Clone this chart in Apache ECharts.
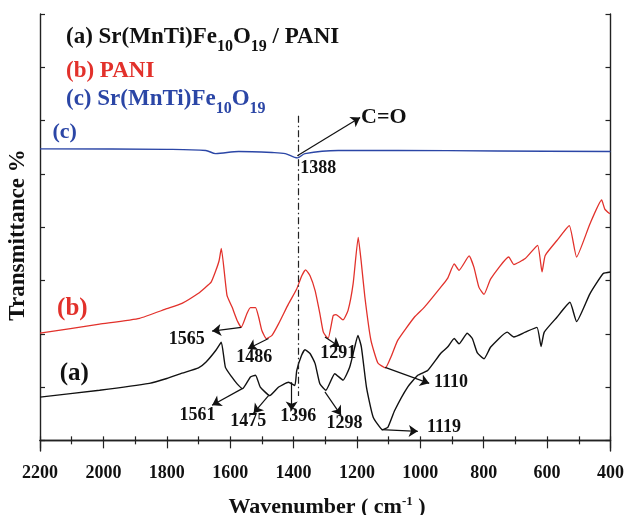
<!DOCTYPE html>
<html>
<head>
<meta charset="utf-8">
<script src="https://cdn.jsdelivr.net/npm/echarts@6/dist/echarts.min.js"></script>
<style>
  html, body { margin: 0; padding: 0; background: #fff; }
  #chart { width: 627px; height: 515px; }
</style>
</head>
<body>
<div id="chart"></div>
<script>
// FTIR spectra, offset vertically (arbitrary transmittance units)
const xTickValues = [2200, 2000, 1800, 1600, 1400, 1200, 1000, 800, 600, 400];
const yTickValues = [0, 1, 2, 3, 4, 5, 6, 7, 8];

// (a) Sr(MnTi)Fe10O19 / PANI composite
const wnComposite = [2200, 2012, 1855, 1800, 1752, 1700, 1676, 1645, 1628, 1615, 1595, 1578, 1561, 1536, 1520, 1505, 1475, 1447, 1416, 1396, 1390, 1375, 1364, 1348, 1332, 1317, 1298, 1270, 1244, 1223, 1207, 1197, 1186, 1170, 1149, 1119, 1102, 1081, 1040, 1008, 977, 936, 914, 893, 878, 852, 836, 820, 799, 778, 726, 705, 669, 632, 619, 609, 569, 528, 507, 465, 423, 400];
const tComposite = [0.81, 0.94, 1.07, 1.16, 1.26, 1.36, 1.47, 1.69, 1.84, 1.37, 1.19, 1.06, 0.97, 1.19, 1.22, 1.00, 0.84, 1.00, 1.09, 1.03, 1.31, 1.59, 1.70, 1.63, 1.44, 1.06, 0.94, 1.25, 1.13, 1.37, 1.75, 1.97, 1.75, 1.00, 0.44, 0.20, 0.25, 0.56, 1.00, 1.22, 1.31, 1.63, 1.75, 1.91, 1.81, 2.01, 1.91, 1.64, 1.53, 1.75, 2.03, 1.94, 2.03, 2.12, 1.76, 2.03, 2.31, 2.59, 2.23, 2.75, 3.13, 3.16];

// (b) PANI
const wnPani = [2200, 2012, 1886, 1800, 1752, 1700, 1680, 1660, 1645, 1635, 1628, 1610, 1594, 1578, 1565, 1547, 1536, 1520, 1510, 1500, 1486, 1468, 1447, 1416, 1390, 1374, 1362, 1348, 1332, 1317, 1306, 1291, 1275, 1266, 1244, 1228, 1212, 1196, 1187, 1175, 1156, 1134, 1110, 1093, 1071, 1019, 987, 936, 914, 893, 878, 846, 831, 815, 799, 778, 721, 705, 669, 630, 616, 606, 569, 530, 507, 465, 428, 418, 402];
const tPani = [2.01, 2.18, 2.29, 2.47, 2.57, 2.76, 2.86, 2.97, 3.19, 3.37, 3.60, 2.72, 2.50, 2.25, 2.12, 2.38, 2.49, 2.49, 2.31, 2.06, 1.91, 1.97, 2.19, 2.56, 2.84, 3.09, 3.20, 3.09, 2.81, 2.38, 2.03, 1.91, 2.34, 2.36, 2.26, 2.44, 2.94, 3.81, 3.38, 2.69, 1.88, 1.45, 1.36, 1.56, 1.88, 2.31, 2.50, 2.87, 3.04, 3.31, 3.19, 3.46, 3.25, 2.87, 2.74, 3.03, 3.44, 3.30, 3.41, 3.66, 3.16, 3.47, 3.75, 4.03, 3.44, 4.06, 4.51, 4.34, 4.25];

// (c) Sr(MnTi)Fe10O19 ferrite
const wnFerrite = [2200, 1800, 1677, 1646, 1573, 1468, 1426, 1388, 1364, 1259, 1071, 757, 400];
const tFerrite = [5.47, 5.46, 5.44, 5.38, 5.42, 5.40, 5.38, 5.30, 5.38, 5.44, 5.44, 5.43, 5.42];

// band assignments: label text, label centre, arrow tail, arrow head (data coords)
const bandLabels = ['1565', '1486', '1291', '1110', '1561', '1475', '1396', '1298', '1119'];
const bandLabelAt = [[1737, 1.89], [1524, 1.55], [1259, 1.64], [903, 1.08], [1703, 0.47], [1543, 0.36], [1385, 0.45], [1239, 0.32], [925, 0.25]];
const bandArrowFrom = [[1565, 2.12], [1479, 1.91], [1301, 1.94], [1111, 1.37], [1562, 0.97], [1479, 0.84], [1406, 1.09], [1301, 0.91], [1123, 0.20]];
const bandArrowTo = [[1657, 2.05], [1544, 1.72], [1254, 1.75], [972, 1.07], [1657, 0.66], [1526, 0.51], [1406, 0.56], [1250, 0.47], [1008, 0.17]];

const RED = '#e2312b';
const BLUE = '#2b46a6';
const BLACK = '#111111';
const FONT = 'Liberation Serif';

function zip(xs, ys) { return xs.map((x, i) => [x, ys[i]]); }

const arrowLines = bandArrowFrom.map((f, i) => [{ coord: f }, { coord: bandArrowTo[i] }]);
// C=O marker arrow and the dash-dot guide through 1388 cm-1
arrowLines.push([{ coord: [1388, 5.34] }, { coord: [1190, 6.06] }]);
arrowLines.push([
  { coord: [1386, 6.09], symbol: 'none', lineStyle: { type: [7, 3, 1.5, 3], width: 1.2, color: '#222' } },
  { coord: [1386, 0.83], symbol: 'none' }
]);

const chart = echarts.init(document.getElementById('chart'), null, { renderer: 'canvas' });

const axisLineStyle = { color: '#222', width: 1.4 };
const tickStyle = { color: '#222', width: 1.2 };

chart.setOption({
  animation: false,
  backgroundColor: '#fff',
  grid: { left: 40, right: 13, top: 14, bottom: 64 },
  xAxis: [
    {
      type: 'value', inverse: true, min: 400, max: 2200, interval: 200,
      axisLine: { show: true, lineStyle: axisLineStyle },
      axisTick: { show: true, inside: false, length: 8, lineStyle: tickStyle },
      minorTick: { show: true, splitNumber: 2, length: 4, lineStyle: tickStyle },
      axisLabel: {
        show: true, margin: 13, color: BLACK, fontFamily: FONT, fontWeight: 'bold', fontSize: 18,
        customValues: xTickValues, formatter: v => String(v)
      },
      splitLine: { show: false }
    },
    {
      type: 'value', position: 'top', inverse: true, min: 400, max: 2200, interval: 200,
      axisLine: { show: true, lineStyle: axisLineStyle },
      axisTick: { show: true, inside: false, length: 4, lineStyle: tickStyle },
      minorTick: { show: true, splitNumber: 2, length: 4, lineStyle: tickStyle },
      axisLabel: { show: false },
      splitLine: { show: false }
    }
  ],
  yAxis: [
    {
      type: 'value', min: -0.2, max: 8,
      axisLine: { show: true, lineStyle: axisLineStyle },
      axisTick: { show: true, inside: true, length: 5, customValues: yTickValues, lineStyle: tickStyle },
      axisLabel: { show: false },
      splitLine: { show: false }
    },
    {
      type: 'value', position: 'right', min: -0.2, max: 8,
      axisLine: { show: true, lineStyle: axisLineStyle },
      axisTick: { show: true, inside: true, length: 5, customValues: yTickValues, lineStyle: tickStyle },
      axisLabel: { show: false },
      splitLine: { show: false }
    }
  ],
  series: [
    {
      name: 'composite', type: 'line', data: zip(wnComposite, tComposite),
      showSymbol: false, smooth: 0.15, lineStyle: { color: BLACK, width: 1.4 }, z: 3,
      markLine: {
        silent: true, animation: false,
        symbol: ['none', 'arrow'], symbolSize: 9,
        label: { show: false },
        lineStyle: { color: BLACK, width: 1.2, type: 'solid' },
        data: arrowLines
      }
    },
    {
      name: 'PANI', type: 'line', data: zip(wnPani, tPani),
      showSymbol: false, smooth: 0.15, lineStyle: { color: RED, width: 1.3 }, z: 3
    },
    {
      name: 'ferrite', type: 'line', data: zip(wnFerrite, tFerrite),
      showSymbol: false, smooth: 0.3, lineStyle: { color: BLUE, width: 1.4 }, z: 3
    }
  ]
});

function px(pt) { return chart.convertToPixel({ xAxisIndex: 0, yAxisIndex: 0 }, pt); }

function txt(text, at, size, color) {
  const p = px(at);
  return {
    type: 'text', x: p[0], y: p[1], z: 10,
    style: { text: text, fill: color, font: 'bold ' + size + 'px "' + FONT + '"', align: 'center', verticalAlign: 'middle' }
  };
}

// Lays out a run of text pieces (with sub/superscripts) on a common baseline.
const measureCtx = document.createElement('canvas').getContext('2d');
function fontOf(size) { return 'bold ' + size + 'px "' + FONT + '"'; }
function runWidth(pieces) {
  return pieces.reduce((w, p) => { measureCtx.font = fontOf(p.size); return w + measureCtx.measureText(p.t).width; }, 0);
}
function textRun(pieces, x, baseline, color) {
  const out = [];
  let cx = x;
  pieces.forEach(p => {
    measureCtx.font = fontOf(p.size);
    out.push({
      type: 'text', x: cx, y: baseline + (p.dy || 0) - 0.34 * p.size, z: 10,
      style: { text: p.t, fill: color, font: fontOf(p.size), align: 'left', verticalAlign: 'middle' }
    });
    cx += measureCtx.measureText(p.t).width;
  });
  return out;
}

const graphics = [];
bandLabels.forEach((t, i) => graphics.push(txt(t, bandLabelAt[i], 18, BLACK)));
graphics.push(txt('C=O', [1115, 6.06], 22, BLACK));
graphics.push(txt('1388', [1322, 5.10], 18, BLACK));
graphics.push(txt('(a)', [2092, 1.26], 25, BLACK));
graphics.push(txt('(b)', [2098, 2.48], 25, RED));
graphics.push(txt('(c)', [2122, 5.78], 22, BLUE));

const M = 23, S = 16, SUB = 7;
const ferriteName = [
  { t: 'Sr(MnTi)Fe', size: M }, { t: '10', size: S, dy: SUB }, { t: 'O', size: M }, { t: '19', size: S, dy: SUB }
];
graphics.push(...textRun([{ t: '(a) ', size: M }].concat(ferriteName, [{ t: ' / PANI', size: M }]), 66, 45, BLACK));
graphics.push(...textRun([{ t: '(b) PANI', size: M }], 66, 79, RED));
graphics.push(...textRun([{ t: '(c) ', size: M }].concat(ferriteName), 66, 107, BLUE));

// axis titles
const xTitle = [{ t: 'Wavenumber ( cm', size: 22 }, { t: '-1', size: 13, dy: -9 }, { t: ' )', size: 22 }];
graphics.push(...textRun(xTitle, 327 - runWidth(xTitle) / 2, 515, BLACK));
graphics.push({
  type: 'text', x: 18, y: 235, rotation: Math.PI / 2, z: 10,
  style: { text: 'Transmittance %', fill: BLACK, font: 'bold 23px "' + FONT + '"', align: 'center', verticalAlign: 'middle' }
});

chart.setOption({ graphic: graphics });
</script>
</body>
</html>
